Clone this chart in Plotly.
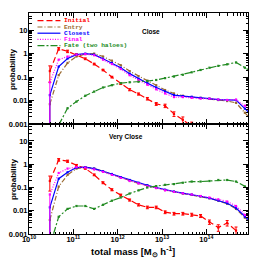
import plotly.graph_objects as go
from plotly.subplots import make_subplots

# ---- data ----
log_mass = [10.47, 10.67, 10.87, 11.07, 11.27, 11.47, 11.67, 11.87, 12.07, 12.27,
            12.47, 12.67, 12.87, 13.07, 13.27, 13.47, 13.67, 13.87, 14.07, 14.27,
            14.47, 14.67, 14.87, 15.07]
mass = [10 ** v for v in log_mass]

series_names = ["Initial", "Entry", "Closest", "Final", "Fate (two haloes)"]

# Close (top panel)
close_initial = [0.18, 1.6, 1.25, 0.9, 0.6, 0.36, 0.2, 0.1, 0.052, 0.029,
                 0.019, 0.012, 0.0072, 0.006, 0.0027, 0.0015, 0.0008, None, None, None,
                 None, None, None, None]
close_entry = [0.007, 0.12, 0.4, 0.75, 0.95, 1.0, 0.75, 0.5, 0.32, 0.18,
               0.11, 0.07, 0.045, 0.028, 0.02, 0.016, 0.014, 0.013, 0.012, 0.0105,
               0.0095, 0.008, 0.003, 0.0012]
close_closest = [0.017, 0.28, 0.62, 0.9, 1.0, 0.9, 0.6, 0.4, 0.25, 0.14,
                 0.085, 0.055, 0.036, 0.024, 0.017, 0.0155, 0.0145, 0.013, 0.012, 0.011,
                 0.0105, 0.0105, 0.0045, 0.002]
close_final = [0.06, 0.55, 0.75, 0.9, 0.95, 0.85, 0.55, 0.36, 0.22, 0.12,
               0.075, 0.047, 0.03, 0.02, 0.014, 0.014, 0.013, 0.012, 0.012, 0.011,
               0.0105, 0.011, 0.006, 0.003]
close_fate = [None, 0.0009, 0.0047, 0.009, 0.016, 0.024, 0.036, 0.045, 0.055, 0.06,
              0.063, 0.068, 0.075, 0.09, 0.105, 0.125, 0.16, 0.2, 0.25, 0.3,
              0.35, 0.42, 0.25, 0.15]

# Very Close (bottom panel)
vclose_initial = [0.19, 1.55, 1.35, 0.9, 0.66, 0.35, 0.16, 0.08, 0.047, 0.029,
                  0.018, 0.014, 0.014, 0.0087, 0.0075, 0.0075, 0.0068, 0.006, 0.0033, 0.0019,
                  0.003, 0.0014, None, None]
vclose_entry = [0.004, 0.11, 0.35, 0.65, 0.75, 0.65, 0.5, 0.37, 0.27, 0.2,
                0.15, 0.12, 0.095, 0.078, 0.065, 0.055, 0.048, 0.041, 0.034, 0.027,
                0.02, 0.012, 0.005, 0.0022]
vclose_closest = [0.014, 0.24, 0.45, 0.72, 0.75, 0.65, 0.5, 0.38, 0.28, 0.21,
                  0.16, 0.125, 0.1, 0.08, 0.067, 0.057, 0.05, 0.042, 0.035, 0.028,
                  0.021, 0.013, 0.0055, 0.0025]
vclose_final = [0.05, 0.42, 0.65, 0.75, 0.72, 0.6, 0.47, 0.35, 0.26, 0.19,
                0.15, 0.115, 0.095, 0.075, 0.065, 0.056, 0.05, 0.043, 0.037, 0.031,
                0.025, 0.016, 0.0065, 0.003]
vclose_fate = [0.0003, 0.0055, 0.012, 0.016, 0.016, 0.012, 0.018, 0.027, 0.037, 0.055,
               0.075, 0.1, 0.115, 0.13, 0.14, 0.16, 0.18, 0.18, 0.19, 0.21,
               0.21, 0.18, 0.11, 0.07]

# error bars (absolute)
close_initial_err = [0.12, 0.2, 0.15, 0.08, 0.05, 0.03, 0.015, 0.008, 0.004, 0.003,
                     0.002, 0.0015, 0.001, 0.001, 0.0006, 0.0005, 0.0004, None, None, None,
                     None, None, None, None]
vclose_initial_err = [0.12, 0.2, 0.15, 0.08, 0.05, 0.03, 0.015, 0.008, 0.005, 0.003,
                      0.002, 0.0018, 0.0018, 0.0012, 0.001, 0.001, 0.001, 0.0009, 0.0007, 0.0006,
                      0.0008, 0.0006, None, None]
first_point_lower_frac = 0.99

y_tick_vals = [10, 1, 0.1, 0.01, 0.001]
y_tick_text = ["10", "1", "0.1", "0.01", "0.001"]
x_tick_vals = [1e10, 1e11, 1e12, 1e13, 1e14]
x_tick_text = ["10<sup>10</sup>", "10<sup>11</sup>", "10<sup>12</sup>",
               "10<sup>13</sup>", "10<sup>14</sup>"]
panel_labels = ["Close", "Very Close"]

# ---- styles ----
colors = ["#ff0000", "#9a6a30", "#0000ff", "#ff00ff", "#228b22"]
dashes = ["6px,3px", "5px,2px,1px,2px", "solid", "1px,1.5px", "7px,2px,2px,2px"]

OFF = 8  # default page body margin
PAGE = 262
W, H = PAGE - OFF, PAGE - OFF
# target plot area in page pixels
PL, PR, PT, PB = 28.5, 248, 13, 234
ML = PL - OFF
MR = PAGE - PR
MT = PT - OFF
MB = PAGE - PB
PW = PR - PL
PH = PB - PT
split = (PB - 124) / PH

fig = make_subplots(rows=2, cols=1, shared_xaxes=True, vertical_spacing=0)


def lower_first(vals):
    return [v * first_point_lower_frac if (i == 0 and v is not None) else 0
            for i, v in enumerate(vals)]


panels = [
    (1, [close_initial, close_entry, close_closest, close_final, close_fate], close_initial_err),
    (2, [vclose_initial, vclose_entry, vclose_closest, vclose_final, vclose_fate], vclose_initial_err),
]
for row, vals_list, red_err in panels:
    for i, vals in enumerate(vals_list):
        if i == 0:
            err = dict(type="data", array=red_err, arrayminus=red_err, visible=True,
                       color=colors[i], thickness=1, width=1.5)
        elif i in (1, 2, 3):
            err = dict(type="data", array=[0] * len(vals), arrayminus=lower_first(vals),
                       visible=True, color=colors[i], thickness=1, width=0)
        else:
            err = None
        fig.add_trace(go.Scatter(
            x=mass, y=vals, mode="lines+markers", name=series_names[i],
            line=dict(color=colors[i], width=1.2, dash=dashes[i]),
            marker=dict(color=colors[i], size=2.2, symbol="square"),
            error_y=err, showlegend=False, connectgaps=False, cliponaxis=True,
        ), row=row, col=1)

minor_x = [m * 10 ** e for e in range(10, 15) for m in range(2, 10)]
minor_y = [m * 10 ** e for e in range(-3, 2) for m in range(2, 10)]

axis_common = dict(showline=True, linecolor="black", linewidth=1, mirror="allticks",
                   ticks="inside", ticklen=5, tickcolor="black", tickwidth=1,
                   showgrid=False, zeroline=False, automargin=False)
xtickfont = dict(family="Liberation Sans", size=7.5, color="black", weight="bold")
ytickfont = dict(family="Liberation Sans", size=7.5, color="black", weight="bold")

for r in (1, 2):
    fig.update_xaxes(type="log", range=[10, 14.94], tickvals=x_tick_vals, ticktext=x_tick_text,
                     tickfont=xtickfont, showticklabels=(r == 2), ticklabelstandoff=-2,
                     minor=dict(tickvals=minor_x, ticks="inside", ticklen=2.5,
                                tickcolor="black", showgrid=False),
                     row=r, col=1, **axis_common)
    fig.update_yaxes(type="log", range=[-3, 1.73], tickvals=y_tick_vals, ticktext=y_tick_text,
                     tickfont=ytickfont, ticklabelstandoff=-1,
                     minor=dict(tickvals=minor_y, ticks="inside", ticklen=2.5,
                                tickcolor="black", showgrid=False),
                     row=r, col=1, **axis_common)

fig.update_layout(
    yaxis=dict(domain=[split, 1]),
    yaxis2=dict(domain=[0, split]),
)


def px_x(px):
    return (px - PL) / PW


def px_y(py):
    return (PB - py) / PH


annotations = []
# y axis titles
for cy in (70, 180):
    annotations.append(dict(text="<b>probability</b>", x=px_x(12.5), y=px_y(cy), xref="paper", yref="paper",
                            xanchor="center", yanchor="middle",
                            showarrow=False, textangle=-90,
                            font=dict(family="Liberation Sans", size=8, color="black")))
# x axis title
annotations.append(dict(text="<b>total mass [M<sub>⊙</sub> h<sup>-1</sup>]</b>", x=px_x(133), y=px_y(252),
                        xref="paper", yref="paper", showarrow=False,
                        xanchor="center", yanchor="middle",
                        font=dict(family="Liberation Sans", size=9.5, color="black")))
# panel labels
annotations.append(dict(text="<b>" + panel_labels[0] + "</b>", x=px_x(151), y=px_y(26), xref="paper", yref="paper",
                        showarrow=False, font=dict(family="Liberation Sans", size=6.5, color="black")))
annotations.append(dict(text="<b>" + panel_labels[1] + "</b>", x=px_x(126), y=px_y(137), xref="paper", yref="paper",
                        showarrow=False, font=dict(family="Liberation Sans", size=6.5, color="black")))

# manual legend
shapes = []
row_y = [20.7, 27, 33.2, 39.4, 45.7]
for i, name in enumerate(series_names):
    yy = px_y(row_y[i])
    shapes.append(dict(type="line", xref="paper", yref="paper", x0=px_x(37), x1=px_x(60), y0=yy, y1=yy,
                       line=dict(color=colors[i], width=1.2, dash=dashes[i])))
    annotations.append(dict(text="<b>" + name + "</b>", x=px_x(62), y=yy, xref="paper", yref="paper",
                            xanchor="left", yanchor="middle", showarrow=False,
                            font=dict(family="Liberation Mono", size=6.2, color=colors[i])))

fig.update_layout(
    width=W, height=H,
    margin=dict(l=ML, r=MR, t=MT, b=MB, pad=0),
    paper_bgcolor="white", plot_bgcolor="white",
    annotations=annotations, shapes=shapes,
    showlegend=False,
)

fig.write_html("out.html")
